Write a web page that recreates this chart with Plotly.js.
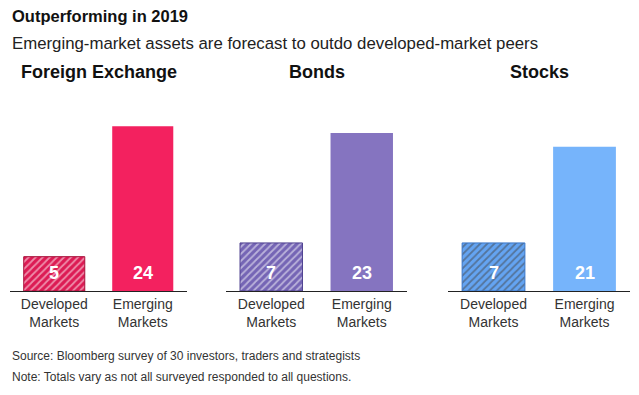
<!DOCTYPE html>
<html>
<head>
<meta charset="utf-8">
<script src="https://cdn.plot.ly/plotly-3.0.1.min.js"></script>
<style>html,body{margin:0;padding:0;background:#fff;}#chart{width:639px;height:395px;}</style>
</head>
<body>
<div id="chart"></div>
<script>
const categories = ["Developed<br>Markets", "Emerging<br>Markets"];
const panels = ["Foreign Exchange", "Bonds", "Stocks"];
const fxValues = [5, 24];
const bondValues = [7, 23];
const stockValues = [7, 21];
const seriesValues = [fxValues, bondValues, stockValues];

const emergingColors = ["#f3215f", "#8574c0", "#76b4fb"];
const developedBg = ["#dc1b54", "#7565b5", "#64a4f2"];
const developedFg = ["#ef4a7a", "#9182cc", "#8cc0fb"];
const developedLine = ["#a8103a", "#4f4190", "#3a77c8"];

const domains = [[10/639, 187/639], [226/639, 407/639], [448/639, 630/639]];
const FONT = "'Liberation Sans', Arial, sans-serif";

const traces = [];
const annotations = [];
const layout = {
  width: 639, height: 395,
  margin: {l: 0, r: 0, t: 85, b: 104},
  paper_bgcolor: "#fff", plot_bgcolor: "#fff",
  showlegend: false,
  font: {family: FONT, color: "#222"},
  bargap: 0.31,
  shapes: []
};

seriesValues.forEach((vals, i) => {
  const xa = i === 0 ? "x" : "x" + (i + 1);
  const ya = i === 0 ? "y" : "y" + (i + 1);
  traces.push({
    type: "bar",
    x: categories,
    y: vals,
    xaxis: xa, yaxis: ya,
    marker: {
      color: [developedBg[i], emergingColors[i]],
      line: {color: [developedLine[i], emergingColors[i]], width: [1, 0]},
      pattern: {shape: ["/", ""], fgcolor: developedFg[i], bgcolor: [developedBg[i], emergingColors[i]], size: 5, solidity: 0.35, fillmode: "overlay"}
    },
    hoverinfo: "none",
    text: "",
  });
  const axKey = i === 0 ? "xaxis" : "xaxis" + (i + 1);
  const ayKey = i === 0 ? "yaxis" : "yaxis" + (i + 1);
  layout[axKey] = {
    domain: domains[i], anchor: ya, type: "category",
    range: [-0.5, 1.5], fixedrange: true,
    showgrid: false, zeroline: false,
    showline: true, linecolor: "#222", linewidth: 1,
    ticks: "", tickfont: {size: 14, color: "#333", family: FONT},
  };
  layout[ayKey] = {
    domain: [0, 1], anchor: xa, range: [0, 30],
    visible: false, fixedrange: true
  };
  vals.forEach((v, j) => {
    annotations.push({
      xref: xa, yref: ya, x: categories[j], y: 0,
      yanchor: "bottom", yshift: 6,
      text: "<b>" + v + "</b>", showarrow: false,
      font: {size: 18, color: "#fff", family: FONT}
    });
  });
  annotations.push({
    xref: "paper", yref: "paper",
    x: (domains[i][0] + domains[i][1]) / 2, y: 1,
    xanchor: "center", yanchor: "bottom", yshift: 1,
    text: "<b>" + panels[i] + "</b>", showarrow: false,
    font: {size: 18, color: "#111", family: FONT}
  });
});

annotations.push({
  xref: "paper", yref: "paper", x: 10/639, y: 1,
  xanchor: "left", yanchor: "top", yshift: 85 - 5,
  text: "<b>Outperforming in 2019</b>", showarrow: false,
  font: {size: 16.5, color: "#111", family: FONT}
});
annotations.push({
  xref: "paper", yref: "paper", x: 10/639, y: 1,
  xanchor: "left", yanchor: "top", yshift: 85 - 32,
  text: "Emerging-market assets are forecast to outdo developed-market peers", showarrow: false,
  font: {size: 16.8, color: "#222", family: FONT}
});
annotations.push({
  xref: "paper", yref: "paper", x: 10/639, y: 0,
  xanchor: "left", yanchor: "top", yshift: -56,
  text: "Source: Bloomberg survey of 30 investors, traders and strategists", showarrow: false,
  font: {size: 12, color: "#333", family: FONT}
});
annotations.push({
  xref: "paper", yref: "paper", x: 10/639, y: 0,
  xanchor: "left", yanchor: "top", yshift: -77,
  text: "Note: Totals vary as not all surveyed responded to all questions.", showarrow: false,
  font: {size: 12, color: "#333", family: FONT}
});

layout.annotations = annotations;
Plotly.newPlot("chart", traces, layout, {displayModeBar: false, staticPlot: true});
</script>
</body>
</html>
